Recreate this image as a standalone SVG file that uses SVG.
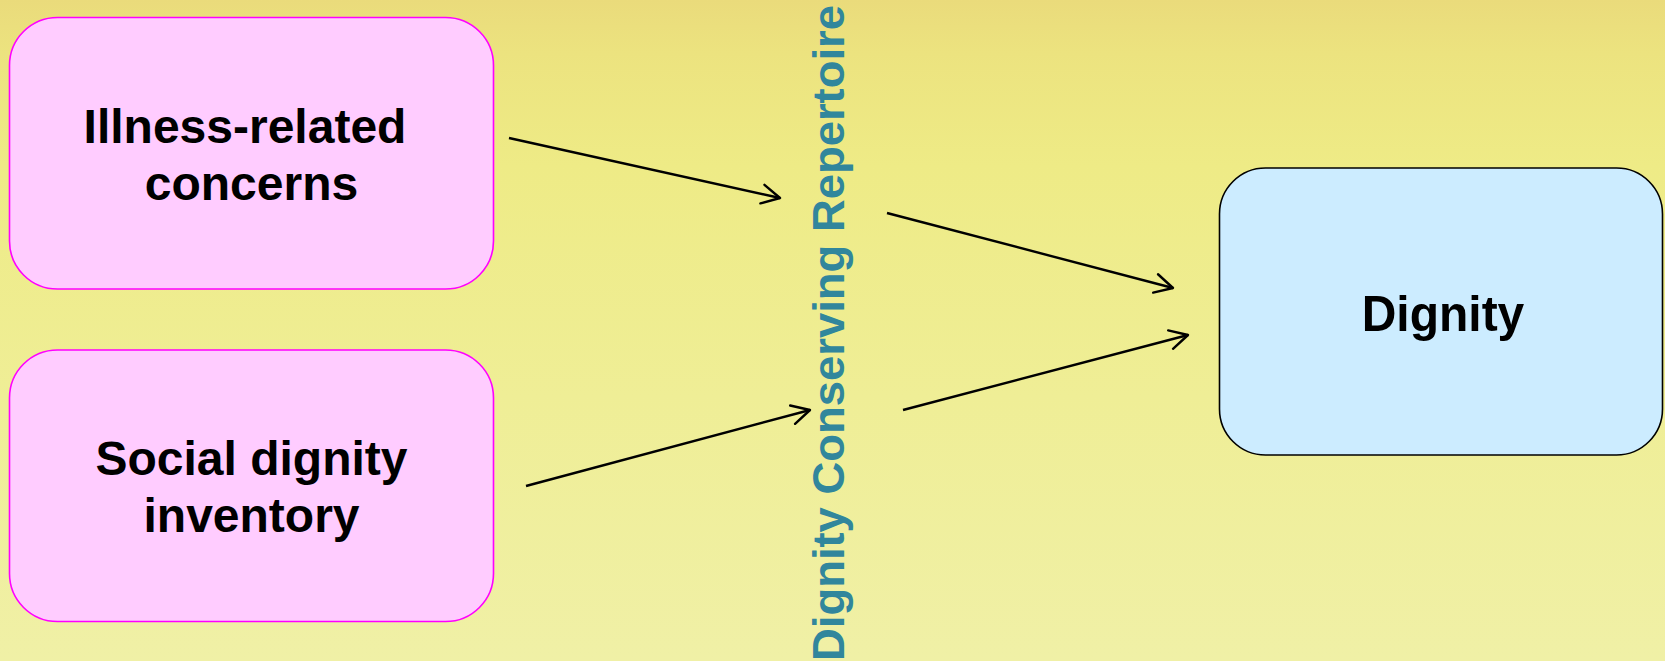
<svg xmlns="http://www.w3.org/2000/svg" width="1665" height="661" viewBox="0 0 1665 661">
  <defs>
    <linearGradient id="bg" x1="0" y1="0" x2="0" y2="1">
      <stop offset="0" stop-color="#EADB7B"/>
      <stop offset="0.08" stop-color="#ECE37F"/>
      <stop offset="0.25" stop-color="#EEEB86"/>
      <stop offset="0.6" stop-color="#EFEE96"/>
      <stop offset="1" stop-color="#F0F0A6"/>
    </linearGradient>
    <marker id="arr" viewBox="-21 -12 24 24" refX="0" refY="0" markerWidth="24" markerHeight="24" markerUnits="userSpaceOnUse" orient="auto">
      <path d="M-18,-9.5 L0,0 L-18,9.5" fill="none" stroke="#000" stroke-width="2.4" stroke-linejoin="round" stroke-linecap="round"/>
    </marker>
  </defs>
  <style>
    .pink { fill: #FFCCFF; stroke: #FF00FF; stroke-width: 1.6; }
    .blue { fill: #CCECFF; stroke: #000000; stroke-width: 1.6; }
    .lbl { font-family: "Liberation Sans", Arial, sans-serif; font-weight: bold; fill: #000; text-anchor: middle; }
    .vert { font-family: "Liberation Sans", Arial, sans-serif; font-weight: bold; fill: #31869C; font-size: 44px; }
    .conn { stroke: #000; stroke-width: 2.4; fill: none; marker-end: url(#arr); }
  </style>
  <rect x="0" y="0" width="1665" height="661" fill="url(#bg)"/>

  <g id="node-illness">
    <rect class="pink" x="9.5" y="17.5" width="484" height="271.5" rx="48" ry="48"/>
    <text class="lbl" font-size="48" x="245" y="143">Illness-related</text>
    <text class="lbl" font-size="48" x="251.5" y="200">concerns</text>
  </g>

  <g id="node-social">
    <rect class="pink" x="9.5" y="350" width="484" height="271.5" rx="48" ry="48"/>
    <text class="lbl" font-size="48" x="251.5" y="475">Social dignity</text>
    <text class="lbl" font-size="48" x="251.5" y="532">inventory</text>
  </g>

  <g id="node-repertoire">
    <text class="vert" transform="translate(844,661) rotate(-90)" x="0" y="0" textLength="656" lengthAdjust="spacingAndGlyphs">Dignity Conserving Repertoire</text>
  </g>

  <g id="node-dignity">
    <rect class="blue" x="1219.5" y="168" width="443" height="287" rx="46" ry="46"/>
    <text class="lbl" font-size="48" transform="translate(1443,331) scale(1,1.04)" x="0" y="0">Dignity</text>
  </g>

  <g id="connectors">
    <line class="conn" x1="509" y1="138" x2="780" y2="198"/>
    <line class="conn" x1="526" y1="486" x2="810" y2="410"/>
    <line class="conn" x1="887" y1="213" x2="1173" y2="288"/>
    <line class="conn" x1="903" y1="410" x2="1188" y2="335"/>
  </g>
</svg>
